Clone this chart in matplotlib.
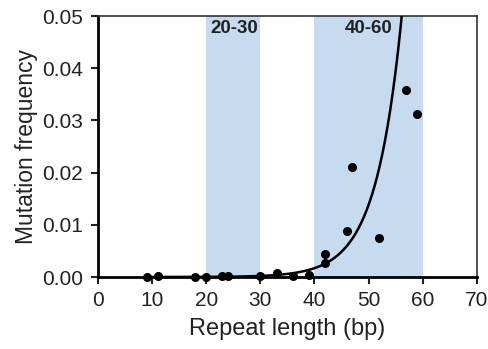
import numpy as np
import matplotlib
matplotlib.use("Agg")
import matplotlib.pyplot as plt

plt.rcParams['font.family'] = ['Liberation Sans', 'DejaVu Sans']

# Data points (repeat length, mutation frequency)
repeat_len = [9, 11, 18, 20, 23, 24, 30, 33, 36, 39, 42, 42, 46, 47, 52, 57, 59]
mut_freq = [0.0000, 0.0002, 0.0000, 0.0000, 0.0002, 0.0002, 0.0002, 0.0008,
            0.0002, 0.0003, 0.0045, 0.0026, 0.0088, 0.0211, 0.0075, 0.0358, 0.0312]

# Exponential fit parameters y = a*exp(b*x)
fit_a = 3.8e-7
fit_b = 0.21
fit_x_range = (9, 57)

bands = [(20, 30, "20-30", 25.1), (40, 60, "40-60", 50.0)]
xticks = [0, 10, 20, 30, 40, 50, 60, 70]
yticks = [0.00, 0.01, 0.02, 0.03, 0.04, 0.05]

fig = plt.figure(figsize=(4.89, 3.49), dpi=100)
ax = fig.add_axes([0.2004, 0.2063, 0.7746, 0.7477])

band_color = '#c6dbef'
for x0, x1, lab, xc in bands:
    ax.axvspan(x0, x1, color=band_color, lw=0, zorder=0)
    ax.text(xc, 0.0492, lab, ha='center', va='top', fontsize=13.5,
            fontweight='bold', color='#222222')

xf = np.linspace(fit_x_range[0], fit_x_range[1], 400)
ax.plot(xf, fit_a * np.exp(fit_b * xf), color='black', lw=1.8, zorder=3)

ax.plot(repeat_len, mut_freq, 'o', color='black', ms=5.5, zorder=4, clip_on=False)

ax.set_xlim(0, 70)
ax.set_ylim(0, 0.05)
ax.set_xticks(xticks)
ax.set_yticks(yticks)
ax.set_yticklabels([f"{v:.2f}" for v in yticks])
ax.tick_params(axis='both', direction='out', length=5, width=1.5, labelsize=15,
               colors='#222222')
ax.tick_params(axis='y', pad=6)
ax.tick_params(axis='x', pad=5)

for s in ['left', 'bottom']:
    ax.spines[s].set_linewidth(2)
for s in ['top', 'right']:
    ax.spines[s].set_linewidth(1.2)
    ax.spines[s].set_color('#333333')

ax.set_xlabel("Repeat length (bp)", fontsize=17, labelpad=6, color='#222222')
ax.set_ylabel("Mutation frequency", fontsize=16.5, labelpad=3, color='#222222')

fig.savefig("out.png", dpi=100)
